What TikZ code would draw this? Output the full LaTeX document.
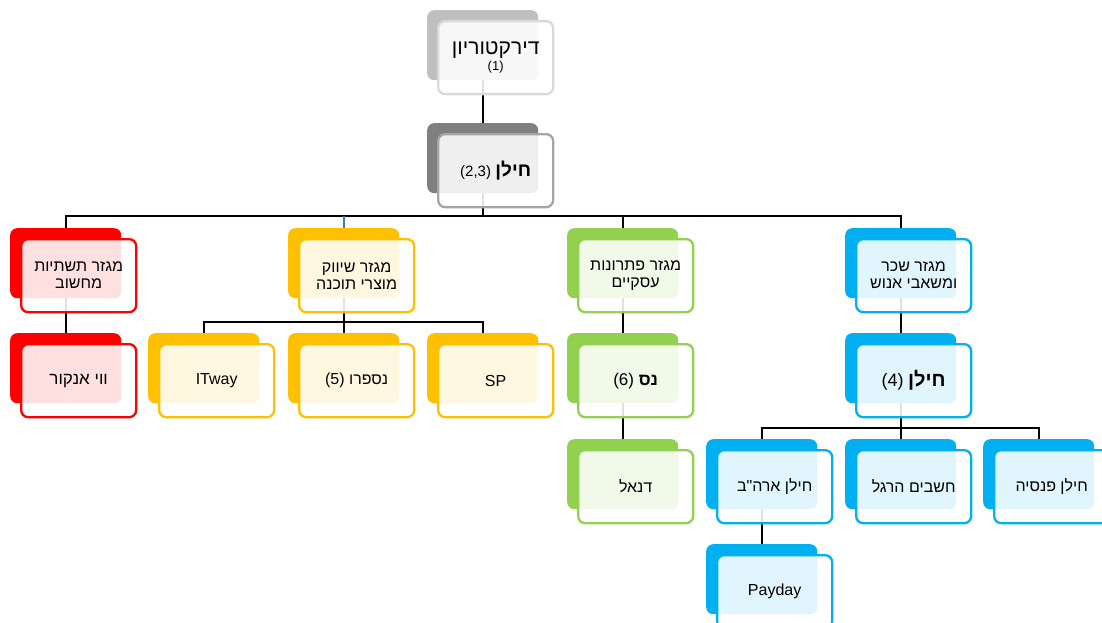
\documentclass[tikz,border=0pt]{standalone}
\usepackage{fontspec}
\setmainfont{Liberation Sans}
\newfontfamily\heb[Script=Hebrew]{Liberation Sans}
\TeXXeTstate=1
\definecolor{cred}{HTML}{FF0000}
\definecolor{cyel}{HTML}{FFC000}
\definecolor{cgrn}{HTML}{92D050}
\definecolor{cblu}{HTML}{00B0F0}
\definecolor{cgl}{HTML}{BFBFBF}
\definecolor{cglb}{HTML}{D9D9D9}
\definecolor{cgd}{HTML}{7F7F7F}
\definecolor{cgdb}{HTML}{A5A5A5}
\definecolor{clink}{HTML}{4472C4}
\pgfdeclarelayer{bg}
\pgfsetlayers{bg,main}
\tikzset{
  backbox/.style={rectangle, rounded corners=7pt, anchor=north west, minimum width=111pt, minimum height=70pt, inner sep=0pt, draw=none},
  frontbox/.style={rectangle, rounded corners=7pt, anchor=north west, minimum width=115pt, minimum height=73pt, inner sep=0pt, line width=2.3pt, fill=white, fill opacity=0.88, text opacity=1, draw opacity=1, align=center, font=\fontsize{16}{17}\selectfont},
  conn/.style={line width=2pt, black},
}
\newcommand\onode[6]{%
  \node[backbox, fill=#2] (#1-b) at (#4,#5) {};
  \node[frontbox, draw=#3] (#1) at (#4+10,#5+10) {#6};
}
\begin{document}
\begin{tikzpicture}[x=1pt,y=-1pt]
\useasboundingbox (0,0) rectangle (1102,623);
\onode{dir}{cgl}{cglb}{427}{10}{{\fontsize{21}{21}\selectfont\heb\beginR דירקטוריון\endR}\\[-1pt]{\fontsize{13}{13}\selectfont (1)}}
\onode{ch}{cgd}{cgdb}{427}{123}{{\fontsize{15}{18}\selectfont (2,3)} {\fontsize{19}{22}\selectfont\bfseries\heb\beginR חילן\endR}}
% red
\onode{inf}{cred}{cred}{10}{228}{\heb\beginR מגזר תשתיות\endR\\\heb\beginR מחשוב\endR}
\onode{wee}{cred}{cred}{10}{333}{{\fontsize{17}{18}\selectfont\heb\beginR ווי אנקור\endR}}
% yellow
\onode{mkt}{cyel}{cyel}{288}{228}{\heb\beginR מגזר שיווק\endR\\\heb\beginR מוצרי תוכנה\endR}
\onode{itw}{cyel}{cyel}{148}{333}{ITway}
\onode{nsp}{cyel}{cyel}{288}{333}{(5) {\heb\beginR נספרו\endR}}
\onode{sp}{cyel}{cyel}{427}{333}{SP}
% green
\onode{bus}{cgrn}{cgrn}{567}{228}{\heb\beginR מגזר פתרונות\endR\\\heb\beginR עסקיים\endR}
\onode{nes}{cgrn}{cgrn}{567}{333}{{\fontsize{17}{18}\selectfont (6) {\bfseries\heb\beginR נס\endR}}}
\onode{dan}{cgrn}{cgrn}{567}{439}{\heb\beginR דנאל\endR}
% blue
\onode{hr}{cblu}{cblu}{845}{228}{\heb\beginR מגזר שכר\endR\\\heb\beginR ומשאבי אנוש\endR}
\onode{ch4}{cblu}{cblu}{845}{333}{{\fontsize{18}{20}\selectfont (4)} {\fontsize{20}{22}\selectfont\bfseries\heb\beginR חילן\endR}}
\onode{usa}{cblu}{cblu}{706}{439}{\heb\beginR חילן ארה"ב\endR}
\onode{hsh}{cblu}{cblu}{845}{439}{\heb\beginR חשבים הרגל\endR}
\onode{pen}{cblu}{cblu}{983}{439}{\heb\beginR חילן פנסיה\endR}
\onode{pay}{cblu}{cblu}{706}{544}{Payday}
% buses
\coordinate (bus1) at (0,216);
\coordinate (bus2) at (0,322);
\coordinate (bus3) at (0,428);
\begin{pgfonlayer}{bg}
\draw[conn] (dir-b.south) -- (ch-b.north);
\draw[conn] (ch-b.south) -- (ch-b.south |- bus1) -| (inf-b.north);
\draw[conn] (ch-b.south |- bus1) -| (bus-b.north);
\draw[conn] (ch-b.south |- bus1) -| (hr-b.north);
\draw[conn] (ch-b.south |- bus1) -- (mkt-b.north |- bus1);
\draw[line width=2pt, clink] (mkt-b.north |- bus1) -- (mkt-b.north);
\draw[conn] (inf-b.south) -- (wee-b.north);
\draw[conn] (mkt-b.south) -- (nsp-b.north);
\draw[conn] (mkt-b.south |- bus2) -| (itw-b.north);
\draw[conn] (mkt-b.south |- bus2) -| (sp-b.north);
\draw[conn] (bus-b.south) -- (nes-b.north);
\draw[conn] (nes-b.south) -- (dan-b.north);
\draw[conn] (hr-b.south) -- (ch4-b.north);
\draw[conn] (ch4-b.south) -- (hsh-b.north);
\draw[conn] (ch4-b.south |- bus3) -| (usa-b.north);
\draw[conn] (ch4-b.south |- bus3) -| (pen-b.north);
\draw[conn] (usa-b.south) -- (pay-b.north);
\end{pgfonlayer}
\end{tikzpicture}
\end{document}
